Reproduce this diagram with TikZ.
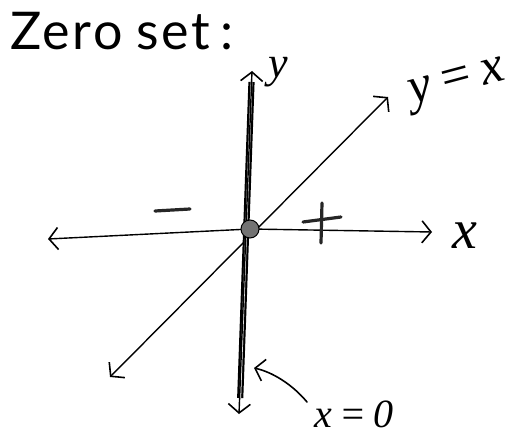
\documentclass[tikz,border=0pt]{standalone}
\usepackage{fontspec}
\setmainfont{Lato}
\newfontfamily\labfont{Liberation Serif}
\usetikzlibrary{arrows.meta}
\tikzset{
  tip/.tip={Straight Barb[length=9pt,width=22pt,line width=1.6pt]},
  axisboth/.style={line width=1.4pt, line cap=round, tip-tip},
  sign/.style={line width=3.2pt, line cap=round, draw=black!85},
  lab/.style={inner sep=0pt, font=\labfont\itshape},
}
\begin{document}
\begin{tikzpicture}[x=1pt,y=-1pt]
\useasboundingbox[fill=white] (0,0) rectangle (509,436);
% title
\node[inner sep=0pt, anchor=base west, font=\fontsize{52}{52}\selectfont\addfontfeatures{LetterSpace=5}] (title) at (10,50) {Zero\hspace{14pt}set\hspace{10pt}:};
% coordinates
\coordinate (O) at (250,229);
\coordinate (xl) at (48,239);
\coordinate (xr) at (432,232);
\coordinate (yt) at (252,71);
\coordinate (yb) at (239,414);
\coordinate (dl) at (110,377);
\coordinate (dr) at (388,97);
% horizontal axis
\draw[axisboth] (xl) -- (O) -- (xr);
% diagonal y = x
\draw[axisboth] (dl) -- (dr);
% vertical axis (double line) with arrow tips
\draw[line width=2.2pt, double=white, double distance=1.8pt] (251.5,82) -- (240.2,398);
\draw[axisboth] (yb) -- (yt);
% origin dot
\node[circle, draw=black, line width=1pt, fill=black!55, minimum size=18pt, inner sep=0pt] (dot) at (O) {};
% signs
\coordinate (m1) at (155,211);
\coordinate (m2) at (190,209);
\draw[sign] (m1) -- (m2);
\coordinate (p1) at (322,203);
\coordinate (p2) at (321,243);
\coordinate (p3) at (303,222);
\coordinate (p4) at (341,217);
\draw[sign] (p1) -- (p2);
\draw[sign] (p3) -- (p4);
% labels
\node[lab] (ylab) at (278,72) {\fontsize{44}{44}\selectfont y};
\node[lab] (xlab) at (465,236) {\fontsize{56}{56}\selectfont x};
\node[lab, rotate=15] (diaglab) at (458,86) {\fontsize{52}{52}\selectfont y\,=\,x};
\node[lab] (x0lab) at (354,414) {\fontsize{40}{40}\selectfont x\,=\,0};
% pointer arrow to x = 0 line
\coordinate (ps) at (307,402);
\coordinate (pe) at (254,368);
\draw[line width=1.6pt, line cap=round, -tip] (ps) .. controls (292,384) and (272,372) .. (pe);
\end{tikzpicture}
\end{document}
